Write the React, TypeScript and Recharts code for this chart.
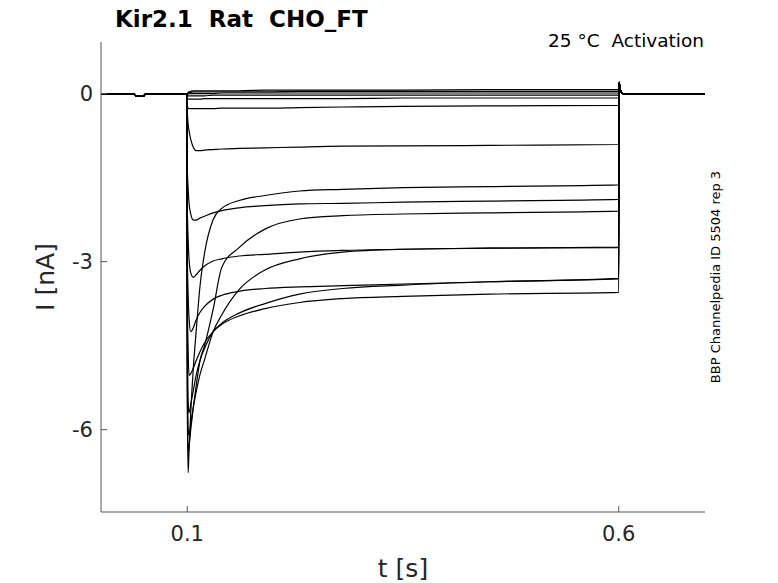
import React from 'react';
import { LineChart, Line, XAxis, YAxis } from 'recharts';

// Holding segment before the test pulse (s, nA)
const HOLD_T = [0, 0.038, 0.041, 0.049, 0.052, 0.0995];
const HOLD_I = [0, 0, -0.05, -0.05, 0, 0];

// Test pulse sample times (s)
const PULSE_T = [0.1, 0.101, 0.102, 0.104, 0.107, 0.11, 0.115, 0.12, 0.13, 0.14, 0.16, 0.19, 0.23, 0.28, 0.35, 0.45, 0.6];

// Tail after the pulse (s, nA)
const TAIL_T = [0.6005, 0.602, 0.605, 0.7];
const TAIL_I = [0.2, 0.06, 0, 0];

// Currents during the pulse, one array per sweep (nA)
const SWEEP_1 = [0.0, 0.02, 0.03, 0.04, 0.05, 0.05, 0.05, 0.05, 0.05, 0.05, 0.05, 0.06, 0.06, 0.06, 0.06, 0.07, 0.07];
const SWEEP_2 = [0.0, 0.01, 0.02, 0.02, 0.03, 0.03, 0.03, 0.03, 0.03, 0.03, 0.03, 0.03, 0.04, 0.04, 0.04, 0.04, 0.04];
const SWEEP_3 = [-0.02, -0.01, 0, 0, 0, 0, 0, 0, 0, 0.01, 0.01, 0.01, 0.01, 0.01, 0.01, 0.01, 0.01];
const SWEEP_4 = [-0.04, -0.04, -0.04, -0.04, -0.04, -0.04, -0.04, -0.04, -0.03, -0.03, -0.03, -0.03, -0.03, -0.03, -0.03, -0.03, -0.03];
const SWEEP_5 = [-0.1, -0.1, -0.1, -0.1, -0.1, -0.1, -0.1, -0.09, -0.09, -0.09, -0.09, -0.09, -0.09, -0.09, -0.08, -0.08, -0.08];
const SWEEP_6 = [-0.22, -0.26, -0.27, -0.27, -0.27, -0.27, -0.27, -0.27, -0.27, -0.26, -0.26, -0.26, -0.25, -0.24, -0.23, -0.22, -0.21];
const SWEEP_7 = [-0.3, -0.55, -0.66, -0.82, -0.96, -1.02, -1.02, -1.01, -1.0, -0.99, -0.98, -0.97, -0.955, -0.94, -0.935, -0.925, -0.91];
const SWEEP_8 = [-1.3, -1.7, -1.95, -2.15, -2.26, -2.26, -2.22, -2.19, -2.13, -2.09, -2.04, -2.0, -1.97, -1.96, -1.94, -1.92, -1.89];
const SWEEP_9 = [-2.0, -2.6, -2.95, -3.2, -3.28, -3.24, -3.15, -3.08, -2.99, -2.95, -2.9, -2.87, -2.83, -2.8, -2.78, -2.76, -2.74];
const SWEEP_10 = [-2.8, -3.6, -4.0, -4.25, -4.18, -4.05, -3.9, -3.8, -3.67, -3.6, -3.53, -3.48, -3.45, -3.43, -3.4, -3.36, -3.31];
const SWEEP_11 = [-3.5, -4.6, -5.03, -5.0, -4.9, -4.78, -4.6, -4.45, -4.25, -4.12, -3.97, -3.84, -3.73, -3.66, -3.62, -3.58, -3.55];
const SWEEP_12 = [-4.0, -5.5, -5.7, -5.55, -5.3, -5.05, -4.75, -4.55, -4.25, -4.1, -3.92, -3.75, -3.58, -3.48, -3.42, -3.36, -3.3];
const SWEEP_13 = [-4.5, -6.0, -6.1, -5.9, -5.6, -5.35, -5.0, -4.75, -4.25, -3.95, -3.5, -3.15, -2.95, -2.83, -2.78, -2.76, -2.75];
const SWEEP_14 = [-5.0, -6.4, -6.3, -6.0, -5.6, -5.25, -4.75, -4.5, -3.85, -3.1, -2.75, -2.42, -2.24, -2.18, -2.15, -2.13, -2.1];
const SWEEP_15 = [-5.5, -6.77, -6.4, -5.7, -4.9, -4.3, -3.4, -2.85, -2.25, -2.05, -1.91, -1.82, -1.74, -1.71, -1.68, -1.66, -1.63];

const SWEEPS = [
  SWEEP_1, SWEEP_2, SWEEP_3, SWEEP_4, SWEEP_5, SWEEP_6, SWEEP_7, SWEEP_8,
  SWEEP_9, SWEEP_10, SWEEP_11, SWEEP_12, SWEEP_13, SWEEP_14, SWEEP_15,
];

const X_TICKS = [0.1, 0.6];
const Y_TICKS = [-6, -3, 0];

const FONT = '"DejaVu Sans", sans-serif';

function buildSeries(pulse: number[]) {
  return [
    ...HOLD_T.map((t, k) => ({ t, i: HOLD_I[k] })),
    ...PULSE_T.map((t, k) => ({ t, i: pulse[k] })),
    ...TAIL_T.map((t, k) => ({ t, i: TAIL_I[k] })),
  ];
}

export default function App() {
  const W = 778;
  const H = 583;
  return (
    <div style={{ position: 'absolute', left: 0, top: 0, width: W, height: H, background: '#fff' }}>
      <LineChart width={W} height={H} margin={{ top: 42, right: 73, bottom: 31, left: 41 }}>
        <XAxis
          dataKey="t"
          type="number"
          domain={[0, 0.7]}
          allowDataOverflow
          ticks={X_TICKS}
          tickFormatter={(v: number) => String(v)}
          height={40}
          stroke="#555"
          tickSize={-6}
          tickMargin={20}
          tick={{ fill: '#262626', fontSize: 21, fontFamily: FONT }}
          axisLine={{ stroke: '#555', strokeWidth: 1 }}
          tickLine={{ stroke: '#555', strokeWidth: 1 }}
        />
        <YAxis
          dataKey="i"
          type="number"
          domain={[-7.47, 0.92]}
          allowDataOverflow
          ticks={Y_TICKS}
          width={60}
          stroke="#555"
          tickSize={-6}
          tickMargin={14}
          tick={{ fill: '#262626', fontSize: 21, fontFamily: FONT }}
          axisLine={{ stroke: '#555', strokeWidth: 1 }}
          tickLine={{ stroke: '#555', strokeWidth: 1 }}
        />
        {SWEEPS.map((s, k) => (
          <Line
            key={k}
            data={buildSeries(s)}
            dataKey="i"
            type="monotoneX"
            stroke="#000"
            strokeWidth={1.2}
            dot={false}
            activeDot={false}
            isAnimationActive={false}
          />
        ))}
      </LineChart>
      <svg
        width={W}
        height={H}
        style={{ position: 'absolute', left: 0, top: 0, pointerEvents: 'none' }}
      >
        <text x={115} y={27} fontFamily={FONT} fontWeight="bold" fontSize={23} fill="#000" style={{ whiteSpace: 'pre' }}>
          {'Kir2.1  Rat  CHO_FT'}
        </text>
        <text x={704} y={47} textAnchor="end" fontFamily={FONT} fontSize={18.5} fill="#000" style={{ whiteSpace: 'pre' }}>
          {'25 °C  Activation'}
        </text>
        <text
          x={720}
          y={277}
          transform="rotate(-90 720 277)"
          textAnchor="middle"
          fontFamily={FONT}
          fontSize={13}
          fill="#000"
        >
          BBP Channelpedia ID 5504 rep 3
        </text>
        <text
          x={54}
          y={277}
          transform="rotate(-90 54 277)"
          textAnchor="middle"
          fontFamily={FONT}
          fontSize={25}
          fill="#262626"
        >
          I [nA]
        </text>
        <text x={403} y={577} textAnchor="middle" fontFamily={FONT} fontSize={25} fill="#262626">
          t [s]
        </text>
      </svg>
    </div>
  );
}
